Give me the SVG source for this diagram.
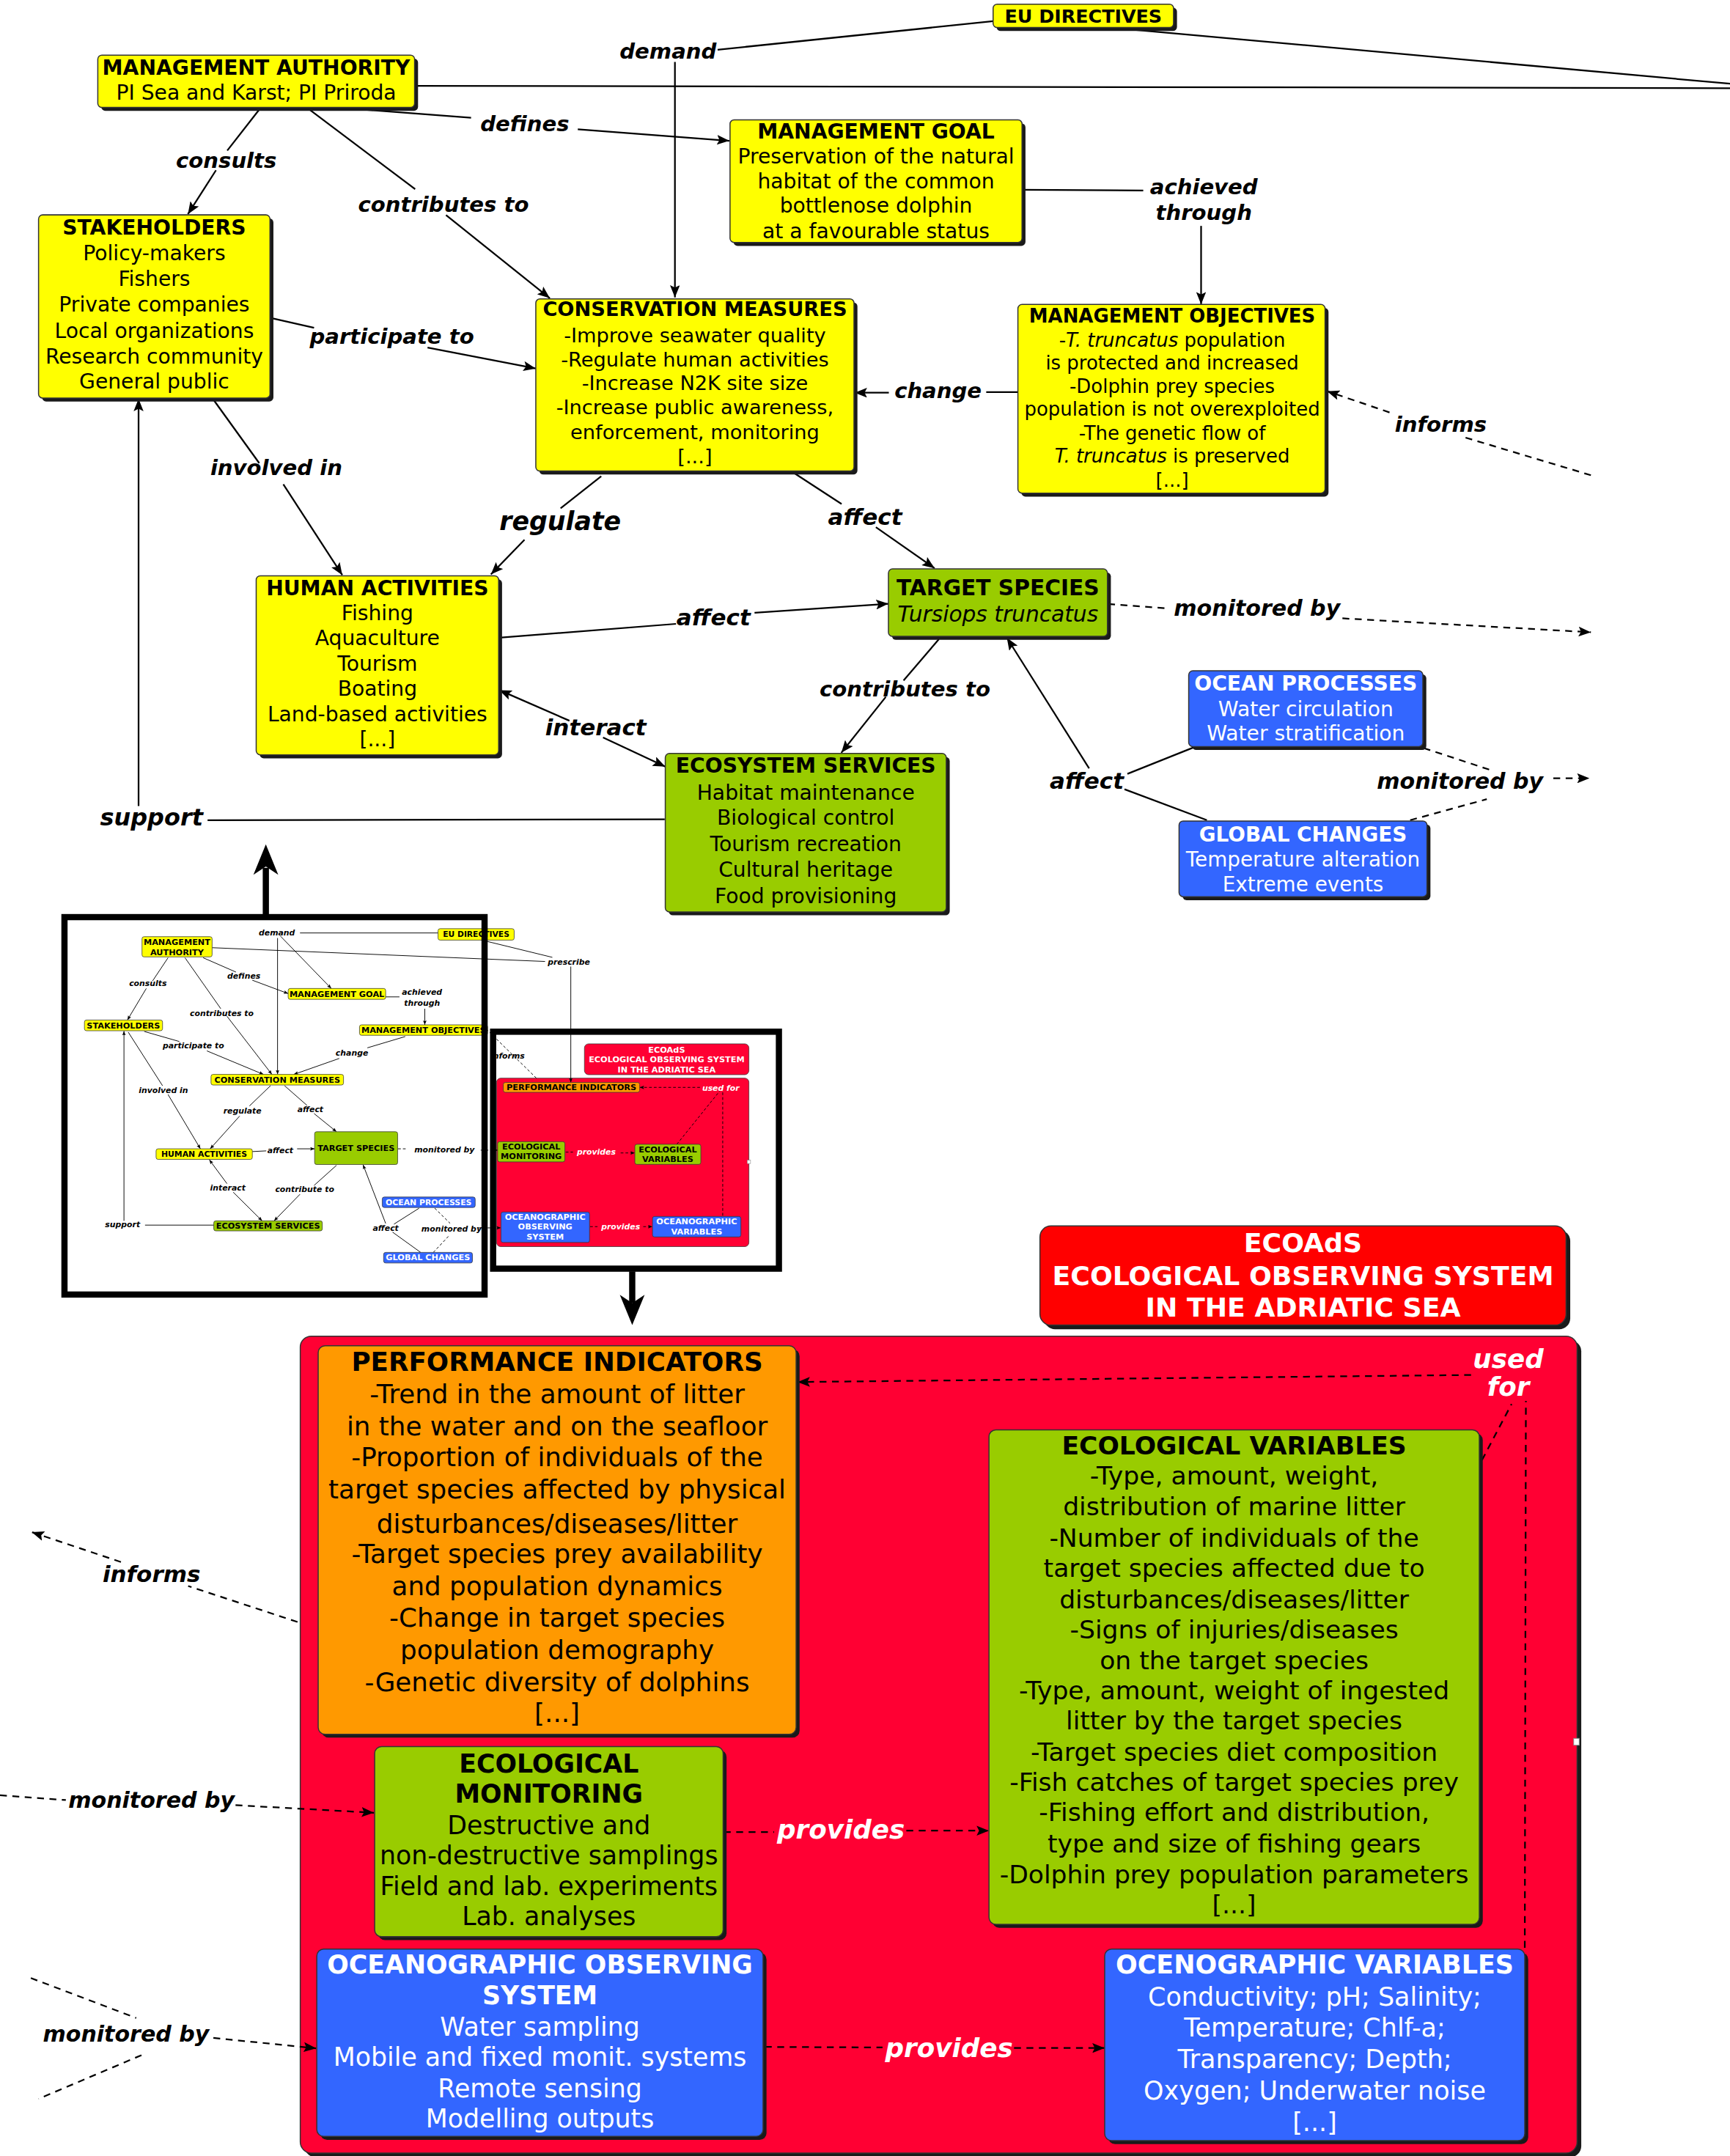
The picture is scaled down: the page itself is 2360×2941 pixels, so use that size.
<svg xmlns="http://www.w3.org/2000/svg" width="2360" height="2941" viewBox="0 0 2360 2941">
<defs>
<style>
.bx{stroke:#333;stroke-width:0.8}
.sh{fill:#1a1a1a}
.y{fill:#ffff00}.g{fill:#99cc00}.bl{fill:#3366ff}.o{fill:#ff9900}.r{fill:#ff0033}
text{font-family:"DejaVu Sans",Verdana,sans-serif;text-anchor:middle;fill:#000}
.tt{font-weight:bold}
.wt{fill:#fff}
.lb{font-weight:bold;font-style:italic;font-size:15.5px}
.c{fill:none;stroke:#000;stroke-width:1.2}
.d{stroke-dasharray:5 4}
.ci{fill:none;stroke:#000;stroke-width:0.5}
.di{stroke-dasharray:2 1.5}
.il{font-weight:bold;font-style:italic;font-size:5.8px}
.it{font-weight:bold;font-size:6px}
.ib{stroke:#333;stroke-width:0.4}
.fr{fill:none;stroke:#000;stroke-width:4.5}
.big{fill:none;stroke:#000;stroke-width:4.5}
</style>
<marker id="a" viewBox="0 0 10 8" refX="10" refY="4" markerWidth="9" markerHeight="7.2" markerUnits="userSpaceOnUse" orient="auto"><path d="M0,0 L10,4 L0,8 L2,4 z" fill="#000"/></marker>
<marker id="ai" viewBox="0 0 10 8" refX="10" refY="4" markerWidth="3.2" markerHeight="2.6" markerUnits="userSpaceOnUse" orient="auto"><path d="M0,0 L10,4 L0,8 L2,4 z" fill="#000"/></marker>
</defs>
<rect width="2360" height="2941" fill="#fff"/>
<g transform="scale(1.879)">

<!-- ================= ECOAdS container (drawn first so links show on top) ================= -->
<g id="n-area">
<rect class="sh" x="221" y="973" width="927" height="593" rx="8"/>
<rect class="bx r" x="218" y="970" width="927" height="593" rx="8"/>
<rect x="1142.5" y="1262" width="4" height="5" fill="#fff" stroke="#888" stroke-width="0.5"/>
</g>
<g id="n-ecoads" font-size="19.3">
<rect class="sh" x="758" y="893" width="382" height="72" rx="8"/>
<rect class="bx" x="755" y="890" width="382" height="72" rx="8" fill="#ff0000"/>
<text class="tt wt" x="946" y="909.1">ECOAdS</text>
<text class="tt wt" x="946" y="932.8">ECOLOGICAL OBSERVING SYSTEM</text>
<text class="tt wt" x="946" y="955.6">IN THE ADRIATIC SEA</text>
</g>

<!-- ================= CONNECTORS (main) ================= -->
<g id="connectors">
<path class="c" d="M721,15.4 L521,36.1"/>
<path class="c" d="M490,45 L490,216" marker-end="url(#a)"/>
<path class="c" d="M301.4,62.3 L1256,64"/>
<path class="c" d="M816,20.9 L1256,60.8"/>
<path class="c" d="M264.7,79.6 L342,85.5"/>
<path class="c" d="M419.5,93.9 L529.5,102.2" marker-end="url(#a)"/>
<path class="c" d="M188.2,79.6 L165,109.3"/>
<path class="c" d="M156.8,123.6 L136.4,155.5" marker-end="url(#a)"/>
<path class="c" d="M224.8,79.6 L301.4,137.3"/>
<path class="c" d="M323.8,156.1 L399.2,216.5" marker-end="url(#a)"/>
<path class="c" d="M742,137.8 L830,138.3"/>
<path class="c" d="M872,164 L872,221" marker-end="url(#a)"/>
<path class="c" d="M197.5,231 L228,238"/>
<path class="c" d="M310.4,252.3 L389,267.5" marker-end="url(#a)"/>
<path class="c" d="M739.4,284.6 L716,284.6"/>
<path class="c" d="M645.3,285.1 L620.5,285.1" marker-end="url(#a)"/>
<path class="c d" d="M1155,345 L1062.3,317.2"/>
<path class="c d" d="M1008.8,299.4 L963.5,284" marker-end="url(#a)"/>
<path class="c" d="M154.8,289.9 L188.2,336.2"/>
<path class="c" d="M205.7,351.6 L248.5,417.5" marker-end="url(#a)"/>
<path class="c" d="M482.6,594.8 L150.7,595.4"/>
<path class="c" d="M100.6,585.2 L100.6,289.5" marker-end="url(#a)"/>
<path class="c" d="M436.5,345.7 L407,369"/>
<path class="c" d="M380.8,391.8 L356.4,417" marker-end="url(#a)"/>
<path class="c" d="M576.3,343.3 L611,365.9"/>
<path class="c" d="M635.9,382.7 L678.5,412.5" marker-end="url(#a)"/>
<path class="c" d="M362.5,463 L490.8,452.9"/>
<path class="c" d="M547.8,444.8 L645,438.3" marker-end="url(#a)"/>
<path class="c d" d="M804.5,438.5 L848.4,441.7"/>
<path class="c d" d="M974.6,448.9 L1155,459" marker-end="url(#a)"/>
<path class="c" d="M413.4,523.2 L362.5,501" marker-end="url(#a)"/>
<path class="c" d="M437.8,535.4 L483,556.5" marker-end="url(#a)"/>
<path class="c" d="M681.6,464.1 L656,494"/>
<path class="c" d="M643.1,505.9 L610.8,546.5" marker-end="url(#a)"/>
<path class="c" d="M866.8,542.5 L818.5,561.8"/>
<path class="c" d="M876.2,595.4 L816.4,573"/>
<path class="c" d="M790.7,557.8 L731,463" marker-end="url(#a)"/>
<path class="c d" d="M1033.6,543.1 L1081.5,558.8"/>
<path class="c d" d="M1023.8,595.4 L1079.4,580.2"/>
<path class="c d" d="M1127.7,565 L1154,565" marker-end="url(#a)"/>
<!-- lower part -->
<path class="c d" d="M1068,998.2 L579,1003.3" marker-end="url(#a)"/>
<path class="c d" d="M1075.9,1060 L1097.4,1019.3"/>
<path class="c d" d="M1107,1414 L1107.8,1017"/>
<path class="c d" d="M525.5,1330 L562,1330"/>
<path class="c d" d="M658,1329 L718,1329" marker-end="url(#a)"/>
<path class="c d" d="M555.3,1486 L640.7,1486.4"/>
<path class="c d" d="M736.2,1486.8 L802,1486.8" marker-end="url(#a)"/>
<path class="c d" d="M0,1303.3 L47.8,1306.8"/>
<path class="c d" d="M171,1310.5 L271.5,1316" marker-end="url(#a)"/>
<path class="c d" d="M22.4,1436 L98.9,1465"/>
<path class="c d" d="M102.7,1492 L28,1523.7"/>
<path class="c d" d="M154.9,1479.5 L229.5,1487" marker-end="url(#a)"/>
<path class="c d" d="M216,1177.5 L136.6,1151.4"/>
<path class="c d" d="M87.8,1134 L23.1,1112.3" marker-end="url(#a)"/>
<!-- big arrows between overview and detail -->
<path class="big" d="M193,664 L193,630"/>
<path d="M193,613 L202,635 L193,629 L184,635 Z" fill="#000"/>
<path class="big" d="M459,923 L459,946"/>
<path d="M459,962 L468,940 L459,946 L450,940 Z" fill="#000"/>
</g>

<!-- ================= LABELS (main) ================= -->
<g id="labels">
<text class="lb" x="485" y="42.6">demand</text>
<text class="lb" x="381" y="95.4">defines</text>
<text class="lb" x="164.3" y="122">consults</text>
<text class="lb" x="322" y="153.6">contributes to</text>
<text class="lb" x="284.5" y="249.8">participate to</text>
<text class="lb" x="874" y="141">achieved</text>
<text class="lb" x="874" y="159.5">through</text>
<text class="lb" x="681" y="289.1">change</text>
<text class="lb" x="1046" y="313.5">informs</text>
<text class="lb" x="200.6" y="344.9">involved in</text>
<text class="lb" x="406.7" y="384.7" style="font-size:18.5px">regulate</text>
<text class="lb" x="628" y="381" style="font-size:16.5px">affect</text>
<text class="lb" x="518" y="454.2" style="font-size:16.5px">affect</text>
<text class="lb" x="912.6" y="447" style="font-size:16px">monitored by</text>
<text class="lb" x="657" y="505.5">contributes to</text>
<text class="lb" x="432.5" y="533.7" style="font-size:16.5px">interact</text>
<text class="lb" x="789" y="572.4" style="font-size:16.5px">affect</text>
<text class="lb" x="1060" y="572.8" style="font-size:16px">monitored by</text>
<text class="lb" x="110" y="599" style="font-size:17px">support</text>
<text class="lb wt" x="1095" y="993.3" style="font-size:19px">used</text>
<text class="lb wt" x="1095" y="1013.3" style="font-size:19px">for</text>
<text class="lb wt" x="610.5" y="1334.8" style="font-size:19px">provides</text>
<text class="lb wt" x="689" y="1493.3" style="font-size:19px">provides</text>
<text class="lb" x="110" y="1312.3" style="font-size:16px">monitored by</text>
<text class="lb" x="91.5" y="1482.3" style="font-size:16px">monitored by</text>
<text class="lb" x="110" y="1148.4" style="font-size:16.5px">informs</text>
</g>

<!-- ================= NODES (top) ================= -->
<g id="n-eu" font-size="13.5">
<rect class="sh" x="723.5" y="5.5" width="131" height="17" rx="3"/>
<rect class="bx y" x="721" y="3" width="131" height="17" rx="3"/>
<text class="tt" x="786.5" y="16.4">EU DIRECTIVES</text>
</g>
<g id="n-ma" font-size="15">
<rect class="sh" x="73.5" y="42.5" width="230" height="38" rx="3"/>
<rect class="bx y" x="71" y="40" width="230" height="38" rx="3"/>
<text class="tt" x="186" y="54.1">MANAGEMENT AUTHORITY</text>
<text x="186" y="72.6">PI Sea and Karst; PI Priroda</text>
</g>
<g id="n-mg" font-size="15">
<rect class="sh" x="532.5" y="89.5" width="212" height="89" rx="3"/>
<rect class="bx y" x="530" y="87" width="212" height="89" rx="3"/>
<text class="tt" x="636" y="100.4">MANAGEMENT GOAL</text>
<text x="636" y="118.7">Preservation of the natural</text>
<text x="636" y="136.8">habitat of the common</text>
<text x="636" y="154.6">bottlenose dolphin</text>
<text x="636" y="172.9">at a favourable status</text>
</g>
<g id="n-stk" font-size="15">
<rect class="sh" x="30.5" y="158.5" width="168" height="133" rx="3"/>
<rect class="bx y" x="28" y="156" width="168" height="133" rx="3"/>
<text class="tt" x="112" y="170.5">STAKEHOLDERS</text>
<text x="112" y="189.1">Policy-makers</text>
<text x="112" y="207.6">Fishers</text>
<text x="112" y="226.4">Private companies</text>
<text x="112" y="245.4">Local organizations</text>
<text x="112" y="263.9">Research community</text>
<text x="112" y="282.2">General public</text>
</g>
<g id="n-cm" font-size="14.5">
<rect class="sh" x="391.5" y="219.5" width="231" height="125" rx="3"/>
<rect class="bx y" x="389" y="217" width="231" height="125" rx="3"/>
<text class="tt" x="504.5" y="229.6">CONSERVATION MEASURES</text>
<text x="504.5" y="248.6">-Improve seawater quality</text>
<text x="504.5" y="266">-Regulate human activities</text>
<text x="504.5" y="283.1">-Increase N2K site size</text>
<text x="504.5" y="300.9">-Increase public awareness,</text>
<text x="504.5" y="318.7">enforcement, monitoring</text>
<text x="504.5" y="336.6">[...]</text>
</g>
<g id="n-mo" font-size="13.8">
<rect class="sh" x="741.5" y="223.5" width="223" height="137" rx="3"/>
<rect class="bx y" x="739" y="221" width="223" height="137" rx="3"/>
<text class="tt" x="851" y="234.3">MANAGEMENT OBJECTIVES</text>
<text x="851" y="251.6">-<tspan font-style="italic">T. truncatus</tspan> population</text>
<text x="851" y="268.3">is protected and increased</text>
<text x="851" y="285.4">-Dolphin prey species</text>
<text x="851" y="302">population is not overexploited</text>
<text x="851" y="319.1">-The genetic flow of</text>
<text x="851" y="336"><tspan font-style="italic">T. truncatus</tspan> is preserved</text>
<text x="851" y="353.6">[...]</text>
</g>
<g id="n-ha" font-size="15">
<rect class="sh" x="188.5" y="420.5" width="176" height="130" rx="3"/>
<rect class="bx y" x="186" y="418" width="176" height="130" rx="3"/>
<text class="tt" x="274" y="431.9">HUMAN ACTIVITIES</text>
<text x="274" y="450.2">Fishing</text>
<text x="274" y="468.5">Aquaculture</text>
<text x="274" y="486.8">Tourism</text>
<text x="274" y="505.2">Boating</text>
<text x="274" y="523.5">Land-based activities</text>
<text x="274" y="541.8">[...]</text>
</g>
<g id="n-ts" font-size="15.8">
<rect class="sh" x="647.5" y="415.5" width="159" height="49" rx="3"/>
<rect class="bx g" x="645" y="413" width="159" height="49" rx="3"/>
<text class="tt" x="724.5" y="432.2">TARGET SPECIES</text>
<text x="724.5" y="451.5" font-style="italic">Tursiops truncatus</text>
</g>
<g id="n-es" font-size="15">
<rect class="sh" x="485.5" y="549.5" width="204" height="115" rx="3"/>
<rect class="bx g" x="483" y="547" width="204" height="115" rx="3"/>
<text class="tt" x="585" y="561.1">ECOSYSTEM SERVICES</text>
<text x="585" y="580.4">Habitat maintenance</text>
<text x="585" y="598.8">Biological control</text>
<text x="585" y="617.7">Tourism recreation</text>
<text x="585" y="636.4">Cultural heritage</text>
<text x="585" y="655.8">Food provisioning</text>
</g>
<g id="n-op" font-size="15">
<rect class="sh" x="865.5" y="489.5" width="170" height="55" rx="3"/>
<rect class="bx bl" x="863" y="487" width="170" height="55" rx="3"/>
<text class="tt wt" x="948" y="501.1">OCEAN PROCESSES</text>
<text class="wt" x="948" y="519.8">Water circulation</text>
<text class="wt" x="948" y="537.7">Water stratification</text>
</g>
<g id="n-gc" font-size="14.8">
<rect class="sh" x="858.5" y="598.5" width="180" height="55" rx="3"/>
<rect class="bx bl" x="856" y="596" width="180" height="55" rx="3"/>
<text class="tt wt" x="946" y="610.9">GLOBAL CHANGES</text>
<text class="wt" x="946" y="629.2">Temperature alteration</text>
<text class="wt" x="946" y="647.2">Extreme events</text>
</g>

<!-- ================= INSET (overview miniature) ================= -->
<g id="inset">
<g id="i-ecoads" class="it"><rect class="ib r" x="424.3" y="757.8" width="119.4" height="22.4" rx="3"/><text class="wt" x="484" y="764">ECOAdS</text><text class="wt" x="484" y="771.1">ECOLOGICAL OBSERVING SYSTEM</text><text class="wt" x="484" y="778.5">IN THE ADRIATIC SEA</text></g>
<g id="i-area"><rect class="ib r" x="360.5" y="782.7" width="183.2" height="122.3" rx="3"/><rect x="542.5" y="842.3" width="2.4" height="2.4" fill="#fff" stroke="#888" stroke-width="0.3"/></g>
<g id="inset-connectors">
<path class="ci" d="M217.8,677.3 L318,677.3"/>
<path class="ci" d="M201.5,681 L201.5,780" marker-end="url(#ai)"/>
<path class="ci" d="M203.5,679.5 L240.5,717.6" marker-end="url(#ai)"/>
<path class="ci" d="M154,688 L395.7,698"/>
<path class="ci" d="M349,682.3 L401,695"/>
<path class="ci" d="M414.4,701.7 L414.4,785.8" marker-end="url(#ai)"/>
<path class="ci" d="M147.5,695.3 L171.3,705.7"/>
<path class="ci" d="M183.2,711.6 L209.2,721.3" marker-end="url(#ai)"/>
<path class="ci" d="M122,695.3 L110.8,712.1"/>
<path class="ci" d="M106.2,717.6 L92.5,740.5" marker-end="url(#ai)"/>
<path class="ci" d="M134.3,695.3 L160.3,732.3"/>
<path class="ci" d="M164.8,737.8 L197.4,780" marker-end="url(#ai)"/>
<path class="ci" d="M280,723.7 L290,723.7"/>
<path class="ci" d="M308.4,732.3 L308.4,744" marker-end="url(#ai)"/>
<path class="ci" d="M294.2,752.5 L266.7,760.7"/>
<path class="ci" d="M246.3,768.4 L213.3,780" marker-end="url(#ai)"/>
<path class="ci" d="M104.7,748.8 L130.2,756.1"/>
<path class="ci" d="M150.2,762.9 L191.3,780" marker-end="url(#ai)"/>
<path class="ci" d="M93.1,749.3 L118,788.2"/>
<path class="ci" d="M122,794.6 L145.5,834" marker-end="url(#ai)"/>
<path class="ci" d="M90,886.3 L90,748.5" marker-end="url(#ai)"/>
<path class="ci" d="M105.3,889.4 L155.2,889.4"/>
<path class="ci" d="M196.4,788.2 L181.1,802.9"/>
<path class="ci" d="M174,810.2 L152.6,834" marker-end="url(#ai)"/>
<path class="ci" d="M206.6,788.2 L222.9,802.5"/>
<path class="ci" d="M228,808.4 L244.3,821.6" marker-end="url(#ai)"/>
<path class="ci" d="M183.2,836 L193.3,835.5"/>
<path class="ci" d="M215.7,834 L228.4,834" marker-end="url(#ai)"/>
<path class="ci di" d="M289,834 L296,834"/>
<path class="ci di" d="M349,835 L361.3,835" marker-end="url(#ai)"/>
<path class="ci" d="M164.8,859.3 L152,842" marker-end="url(#ai)"/>
<path class="ci" d="M169.3,865.5 L190.3,886.3" marker-end="url(#ai)"/>
<path class="ci" d="M244.3,846 L228,860.6"/>
<path class="ci" d="M217.8,867 L199,886.3" marker-end="url(#ai)"/>
<path class="ci" d="M304.3,877.1 L286,888.7"/>
<path class="ci" d="M305.4,909.2 L285,894.5"/>
<path class="ci" d="M280,888.2 L263.6,845.6" marker-end="url(#ai)"/>
<path class="ci di" d="M315.6,877.1 L326.8,888.1"/>
<path class="ci di" d="M314.6,909.2 L325.8,897.3"/>
<path class="ci di" d="M347,891.4 L363.7,891.4" marker-end="url(#ai)"/>
<path class="ci di" d="M389.4,782.7 L352,746"/>
<path class="ci di" d="M508.2,789.4 L464.4,789.4" marker-end="url(#ai)"/>
<path class="ci di" d="M491.4,830.7 L522.5,792.1"/>
<path class="ci di" d="M524.7,793 L524.7,883.1"/>
<path class="ci di" d="M410.7,836.4 L416,836.4"/>
<path class="ci di" d="M450.6,837 L460.9,837" marker-end="url(#ai)"/>
<path class="ci di" d="M428.4,890.5 L433.8,890.5"/>
<path class="ci di" d="M467,890.5 L473.7,890.5" marker-end="url(#ai)"/>
</g>
<g id="inset-labels">
<text class="il" x="201" y="679.3">demand</text>
<text class="il" x="413" y="700.5">prescribe</text>
<text class="il" x="177" y="710.5">defines</text>
<text class="il" x="107.4" y="716">consults</text>
<text class="il" x="161" y="737.4">contributes to</text>
<text class="il" x="306.4" y="722.4">achieved</text>
<text class="il" x="306.4" y="730.1">through</text>
<text class="il" x="140.4" y="761.2">participate to</text>
<text class="il" x="255.5" y="766.4">change</text>
<text class="il" x="118.6" y="793.3">involved in</text>
<text class="il" x="176" y="808.2">regulate</text>
<text class="il" x="225.3" y="807.3">affect</text>
<text class="il" x="203.5" y="837">affect</text>
<text class="il" x="322.7" y="836.4">monitored by</text>
<text class="il" x="165.4" y="864.1">interact</text>
<text class="il" x="221.2" y="865.4">contribute to</text>
<text class="il" x="89" y="891">support</text>
<text class="il" x="280" y="893.8">affect</text>
<text class="il" x="327.8" y="894.1">monitored by</text>
<text class="il" x="356" y="768.3" style="text-anchor:start">informs</text>
<text class="il wt" x="523.3" y="791.8">used for</text>
<text class="il wt" x="432.9" y="838.4">provides</text>
<text class="il wt" x="450.6" y="892.5">provides</text>
</g>
<g id="i-ma" class="it"><rect class="ib y" x="103.1" y="680" width="50.9" height="14.7" rx="1.5"/><text x="128.5" y="686.2">MANAGEMENT</text><text x="128.5" y="693.4">AUTHORITY</text></g>
<g id="i-eu" class="it"><rect class="ib y" x="318" y="674.2" width="55.3" height="8.3" rx="1.5"/><text x="345.7" y="680.4" style="font-size:5.7px">EU DIRECTIVES</text></g>
<g id="i-mg" class="it"><rect class="ib y" x="209.2" y="717.6" width="70.8" height="7.9" rx="1.5"/><text x="244.6" y="723.6">MANAGEMENT GOAL</text></g>
<g id="i-stk" class="it"><rect class="ib y" x="61.3" y="740.5" width="56.7" height="7.8" rx="1.5"/><text x="89.6" y="746.5">STAKEHOLDERS</text></g>
<g id="i-mo" class="it"><rect class="ib y" x="261" y="744" width="93" height="7.6" rx="1.5"/><text x="307.5" y="749.9">MANAGEMENT OBJECTIVES</text></g>
<g id="i-cm" class="it"><rect class="ib y" x="153.2" y="780" width="96.2" height="7.7" rx="1.5"/><text x="201.3" y="786">CONSERVATION MEASURES</text></g>
<g id="i-ha" class="it"><rect class="ib y" x="113.3" y="834" width="69.9" height="7.7" rx="1.5"/><text x="148.2" y="840" style="font-size:5.8px">HUMAN ACTIVITIES</text></g>
<g id="i-ts" class="it"><rect class="ib g" x="228.4" y="821.6" width="60.3" height="23.8" rx="1.5"/><text x="258.5" y="835.6">TARGET SPECIES</text></g>
<g id="i-es" class="it"><rect class="ib g" x="155.2" y="886.3" width="78.8" height="7.3" rx="1.5"/><text x="194.6" y="892.1">ECOSYSTEM SERVICES</text></g>
<g id="i-op" class="it"><rect class="ib bl" x="277.5" y="869" width="67.5" height="7.6" rx="1.5"/><text class="wt" x="311.2" y="874.9" style="font-size:5.8px">OCEAN PROCESSES</text></g>
<g id="i-gc" class="it"><rect class="ib bl" x="278.5" y="909.2" width="64.5" height="7.7" rx="1.5"/><text class="wt" x="310.7" y="915.1">GLOBAL CHANGES</text></g>
<g id="i-pi" class="it"><rect class="ib o" x="365.4" y="785.8" width="99" height="7.2" rx="1.5"/><text x="414.9" y="791.5">PERFORMANCE INDICATORS</text></g>
<g id="i-em" class="it"><rect class="ib g" x="361.3" y="828.8" width="48.8" height="14.7" rx="1.5"/><text x="385.7" y="834.4">ECOLOGICAL</text><text x="385.7" y="841.5">MONITORING</text></g>
<g id="i-ev" class="it"><rect class="ib g" x="460.9" y="830.7" width="47.9" height="14.6" rx="1.5"/><text x="484.8" y="836.4">ECOLOGICAL</text><text x="484.8" y="843.5">VARIABLES</text></g>
<g id="i-oos" class="it"><rect class="ib bl" x="363.7" y="879.9" width="64.3" height="22.1" rx="1.5"/><text class="wt" x="395.8" y="885.5">OCEANOGRAPHIC</text><text class="wt" x="395.8" y="892.6">OBSERVING</text><text class="wt" x="395.8" y="900.1">SYSTEM</text></g>
<g id="i-ov" class="it"><rect class="ib bl" x="473.7" y="883.1" width="64.2" height="14.9" rx="1.5"/><text class="wt" x="505.8" y="888.7">OCEANOGRAPHIC</text><text class="wt" x="505.8" y="896.1">VARIABLES</text></g>
<rect class="fr" x="46.8" y="665.8" width="305" height="274"/>
<rect class="fr" x="358" y="749" width="207.5" height="172"/>
</g>

<!-- ================= NODES (bottom) ================= -->
<g id="n-pi" font-size="19">
<rect class="sh" x="233.5" y="979.5" width="347" height="282" rx="5"/>
<rect class="bx o" x="231" y="977" width="347" height="282" rx="5"/>
<text class="tt" x="404.5" y="995.4">PERFORMANCE INDICATORS</text>
<text x="404.5" y="1018.6">-Trend in the amount of litter</text>
<text x="404.5" y="1041.8">in the water and on the seafloor</text>
<text x="404.5" y="1064.3">-Proportion of individuals of the</text>
<text x="404.5" y="1087.8">target species affected by physical</text>
<text x="404.5" y="1112.7">disturbances/diseases/litter</text>
<text x="404.5" y="1134.7">-Target species prey availability</text>
<text x="404.5" y="1157.9">and population dynamics</text>
<text x="404.5" y="1181.1">-Change in target species</text>
<text x="404.5" y="1204.4">population demography</text>
<text x="404.5" y="1227.6">-Genetic diversity of dolphins</text>
<text x="404.5" y="1250.1">[...]</text>
</g>
<g id="n-em" font-size="18.5">
<rect class="sh" x="274.5" y="1270.5" width="253" height="138" rx="5"/>
<rect class="bx g" x="272" y="1268" width="253" height="138" rx="5"/>
<text class="tt" x="398.5" y="1287.1">ECOLOGICAL</text>
<text class="tt" x="398.5" y="1308.5">MONITORING</text>
<text x="398.5" y="1331.3">Destructive and</text>
<text x="398.5" y="1353.5">non-destructive samplings</text>
<text x="398.5" y="1375.7">Field and lab. experiments</text>
<text x="398.5" y="1397.7">Lab. analyses</text>
</g>
<g id="n-ev" font-size="18.4">
<rect class="sh" x="720.5" y="1040.5" width="356" height="359" rx="5"/>
<rect class="bx g" x="718" y="1038" width="356" height="359" rx="5"/>
<text class="tt" x="896" y="1055.8">ECOLOGICAL VARIABLES</text>
<text x="896" y="1077.9">-Type, amount, weight,</text>
<text x="896" y="1100">distribution of marine litter</text>
<text x="896" y="1122.7">-Number of individuals of the</text>
<text x="896" y="1144.7">target species affected due to</text>
<text x="896" y="1167.8">disturbances/diseases/litter</text>
<text x="896" y="1189.5">-Signs of injuries/diseases</text>
<text x="896" y="1211.6">on the target species</text>
<text x="896" y="1233.7">-Type, amount, weight of ingested</text>
<text x="896" y="1255.7">litter by the target species</text>
<text x="896" y="1278.1">-Target species diet composition</text>
<text x="896" y="1300.2">-Fish catches of target species prey</text>
<text x="896" y="1322.2">-Fishing effort and distribution,</text>
<text x="896" y="1345">type and size of fishing gears</text>
<text x="896" y="1367.1">-Dolphin prey population parameters</text>
<text x="896" y="1389.1">[...]</text>
</g>
<g id="n-oos" font-size="18.5">
<rect class="sh" x="232.5" y="1417.5" width="324" height="136" rx="5"/>
<rect class="bx bl" x="230" y="1415" width="324" height="136" rx="5"/>
<text class="tt wt" x="392" y="1432.9">OCEANOGRAPHIC OBSERVING</text>
<text class="tt wt" x="392" y="1455.1">SYSTEM</text>
<text class="wt" x="392" y="1477.9">Water sampling</text>
<text class="wt" x="392" y="1499.7">Mobile and fixed monit. systems</text>
<text class="wt" x="392" y="1522.5">Remote sensing</text>
<text class="wt" x="392" y="1544.3">Modelling outputs</text>
</g>
<g id="n-ov" font-size="18.6">
<rect class="sh" x="804.5" y="1417.5" width="305" height="139" rx="5"/>
<rect class="bx bl" x="802" y="1415" width="305" height="139" rx="5"/>
<text class="tt wt" x="954.5" y="1432.9">OCENOGRAPHIC VARIABLES</text>
<text class="wt" x="954.5" y="1456.2">Conductivity; pH; Salinity;</text>
<text class="wt" x="954.5" y="1478.6">Temperature; Chlf-a;</text>
<text class="wt" x="954.5" y="1501.4">Transparency; Depth;</text>
<text class="wt" x="954.5" y="1524.2">Oxygen; Underwater noise</text>
<text class="wt" x="954.5" y="1547">[...]</text>
</g>
</g>
</svg>
